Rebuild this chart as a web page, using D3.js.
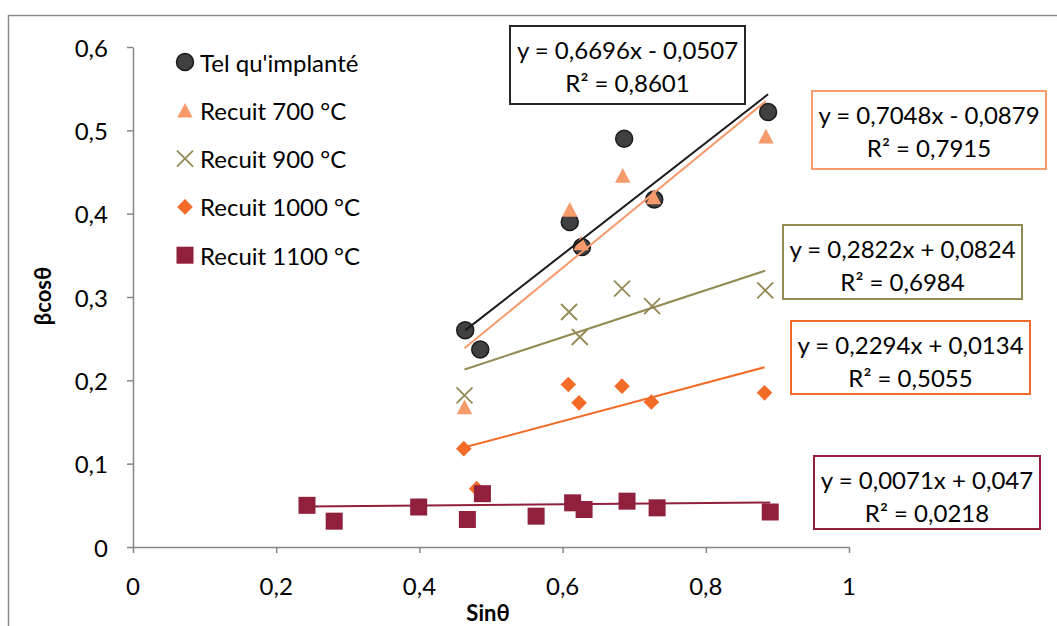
<!DOCTYPE html>
<html><head><meta charset="utf-8">
<script src="https://cdn.jsdelivr.net/npm/d3@7"></script>
<style>body{margin:0;background:#fff} svg{display:block} text{font-family:Lato, "Open Sans", sans-serif;fill:#000}</style>
</head><body><svg id="c" width="1057" height="626"></svg>
<script>
// ---------- data ----------
const seriesNames = ["Tel qu'implanté", "Recuit 700 °C", "Recuit 900 °C", "Recuit 1000 °C", "Recuit 1100 °C"];
const xImplante = [0.464, 0.485, 0.610, 0.627, 0.686, 0.728, 0.887];
const yImplante = [0.260, 0.237, 0.390, 0.360, 0.490, 0.417, 0.522];
const x700 = [0.463, 0.610, 0.626, 0.684, 0.727, 0.884];
const y700 = [0.168, 0.405, 0.365, 0.446, 0.420, 0.493];
const x900 = [0.463, 0.609, 0.624, 0.683, 0.725, 0.883];
const y900 = [0.182, 0.282, 0.252, 0.310, 0.289, 0.308];
const x1000 = [0.462, 0.480, 0.608, 0.623, 0.683, 0.724, 0.882];
const y1000 = [0.118, 0.070, 0.195, 0.173, 0.193, 0.174, 0.185];
const x1100 = [0.243, 0.281, 0.399, 0.467, 0.488, 0.563, 0.614, 0.630, 0.690, 0.732, 0.890];
const y1100 = [0.050, 0.031, 0.048, 0.033, 0.064, 0.037, 0.053, 0.045, 0.055, 0.047, 0.042];
const slopes = [0.6696, 0.7048, 0.2822, 0.2294, 0.0071];
const intercepts = [-0.0507, -0.0879, 0.0824, 0.0134, 0.047];
const eqLabels = ["y = 0,6696x - 0,0507", "y = 0,7048x - 0,0879", "y = 0,2822x + 0,0824", "y = 0,2294x + 0,0134", "y = 0,0071x + 0,047"];
const r2Labels = ["R² = 0,8601", "R² = 0,7915", "R² = 0,6984", "R² = 0,5055", "R² = 0,0218"];
const xTicks = [0, 0.2, 0.4, 0.6, 0.8, 1];
const xTickLabels = ["0", "0,2", "0,4", "0,6", "0,8", "1"];
const yTicks = [0, 0.1, 0.2, 0.3, 0.4, 0.5, 0.6];
const yTickLabels = ["0", "0,1", "0,2", "0,3", "0,4", "0,5", "0,6"];
const xTitle = "Sinθ", yTitle = "βcosθ";

// ---------- layout / style ----------
const colors = ["#404040", "#F79A6C", "#948A54", "#F26C28", "#91203D"];
const lineColors = ["#1a1a1a", "#F79A6C", "#948A54", "#F26C28", "#91203D"];
const boxStroke = ["#262626", "#F79A6C", "#948A54", "#F26C28", "#91203D"];
const boxes = [[510,26,235,78],[812,91,234,78],[783,225,239,74],[791,321,239,73],[814,456,226,73]];
const SX = 1.0, FS = 24;

const svg = d3.select("#c");
svg.append("rect").attr("x",8.5).attr("y",15.5).attr("width",1100).attr("height",700)
  .attr("fill","none").attr("stroke","#8a8a8a").attr("stroke-width",1.5);

const x = d3.scaleLinear().domain([0,1]).range([133,849]);
const y = d3.scaleLinear().domain([0,0.6]).range([547,47]);

function stext(g, tx, ty, str, anchor, size, weight){
  return g.append("text").attr("transform",`translate(${tx},${ty}) scale(${SX},1)`)
    .attr("text-anchor",anchor).attr("dominant-baseline","central")
    .style("font-size",size+"px").style("font-weight",weight||"normal").text(str);
}

// axes
const ax = svg.append("g");
const yAxis = d3.axisLeft(y).tickValues(yTicks).tickFormat(()=>"").tickSize(6).tickSizeOuter(0);
const xAxis = d3.axisBottom(x).tickValues(xTicks).tickFormat(()=>"").tickSize(6).tickSizeOuter(0);
const ga = ax.append("g").attr("transform","translate(133,0)").call(yAxis);
const gb = ax.append("g").attr("transform","translate(0,547)").call(xAxis);
[ga,gb].forEach(g=>{g.selectAll("path,line").attr("stroke","#868686").attr("stroke-width",1.5);});
yTicks.forEach((v,i)=>stext(svg,108,y(v),yTickLabels[i],"end",FS));
xTicks.forEach((v,i)=>stext(svg,x(v),585,xTickLabels[i],"middle",FS));
stext(svg,488,612,xTitle,"middle",22,"bold");
svg.append("text").attr("transform",`translate(42,296) rotate(-90) scale(${SX},1)`)
  .attr("text-anchor","middle").attr("dominant-baseline","central")
  .style("font-size","22px").style("font-weight","bold").text(yTitle);

// markers
function marker(g, k, cx, cy){
  const c = colors[k];
  if(k===0) g.append("circle").attr("cx",cx).attr("cy",cy).attr("r",8.5).attr("fill",c).attr("stroke","#1a1a1a").attr("stroke-width",1.5);
  else if(k===1) g.append("path").attr("transform",`translate(${cx},${cy})`).attr("d","M0,-7.4L7.7,7.3L-7.7,7.3Z").attr("fill",c);
  else if(k===2) g.append("path").attr("transform",`translate(${cx},${cy})`).attr("d","M-8,-8L8,8M-8,8L8,-8").attr("stroke",c).attr("stroke-width",1.8).attr("fill","none");
  else if(k===3) g.append("path").attr("transform",`translate(${cx},${cy})`).attr("d","M0,-7.8L7.8,0L0,7.8L-7.8,0Z").attr("fill",c);
  else g.append("rect").attr("x",cx-8.5).attr("y",cy-8.5).attr("width",17).attr("height",17).attr("fill",c);
}
const xs = [xImplante, x700, x900, x1000, x1100];
const ys = [yImplante, y700, y900, y1000, y1100];
const mg = svg.append("g");
xs.forEach((arr,k)=>arr.forEach((v,i)=>marker(mg,k,x(v),y(ys[k][i]))));

// trendlines
const lg = svg.append("g");
xs.forEach((arr,k)=>{
  const x0 = d3.min(arr), x1 = d3.max(arr);
  lg.append("line").attr("x1",x(x0)).attr("y1",y(slopes[k]*x0+intercepts[k]))
    .attr("x2",x(x1)).attr("y2",y(slopes[k]*x1+intercepts[k]))
    .attr("stroke",lineColors[k]).attr("stroke-width",2);
});

// legend
const leg = svg.append("g");
seriesNames.forEach((n,k)=>{
  const ly = 62 + k*48.3;
  marker(leg,k,185,ly);
  stext(leg,200,ly,n,"start",FS);
});

// equation boxes
boxes.forEach((b,k)=>{
  svg.append("rect").attr("x",b[0]).attr("y",b[1]).attr("width",b[2]).attr("height",b[3])
    .attr("fill","#fff").attr("stroke",boxStroke[k]).attr("stroke-width",2);
  stext(svg,b[0]+b[2]/2,b[1]+23,eqLabels[k],"middle",FS);
  stext(svg,b[0]+b[2]/2,b[1]+56,r2Labels[k],"middle",FS);
});
</script></body></html>
